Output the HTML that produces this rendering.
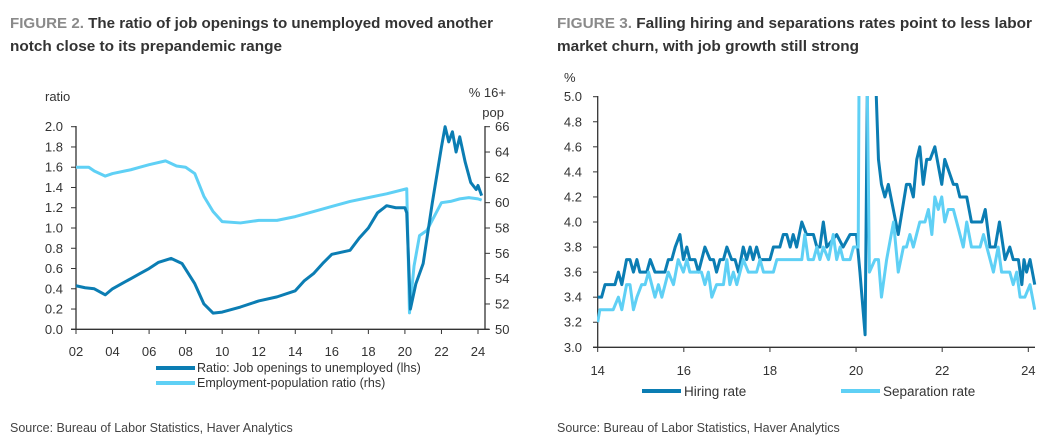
<!DOCTYPE html>
<html><head><meta charset="utf-8"><style>
body{margin:0;background:#fff;}
svg{display:block;font-family:"Liberation Sans",sans-serif;}
.t{font-size:12.5px;fill:#333;}
</style></head><body>
<svg id="s" width="1053" height="444" viewBox="0 0 1053 444" xmlns="http://www.w3.org/2000/svg">
<text x="10" y="28" font-size="15" font-weight="bold" textLength="483" lengthAdjust="spacingAndGlyphs"><tspan fill="#8a8a8a">FIGURE 2.</tspan><tspan fill="#333"> The ratio of job openings to unemployed moved another</tspan></text>
<text x="10" y="51" font-size="15" font-weight="bold" fill="#333" textLength="272" lengthAdjust="spacingAndGlyphs">notch close to its prepandemic range</text>
<text x="557" y="28" font-size="15" font-weight="bold" textLength="475" lengthAdjust="spacingAndGlyphs"><tspan fill="#8a8a8a">FIGURE 3.</tspan><tspan fill="#333"> Falling hiring and separations rates point to less labor</tspan></text>
<text x="557" y="51" font-size="15" font-weight="bold" fill="#333" textLength="302" lengthAdjust="spacingAndGlyphs">market churn, with job growth still strong</text>
<text x="10" y="432" font-size="12.5" fill="#444">Source: Bureau of Labor Statistics, Haver Analytics</text>
<text x="557" y="432" font-size="12.5" fill="#444">Source: Bureau of Labor Statistics, Haver Analytics</text>
<g id="c1"></g>
<g id="c2"></g>
<defs><clipPath id="clip2"><rect x="597" y="96" width="440" height="252"/></clipPath></defs>
</svg>
<script>
// Figure 2 data
const ratioYears=[2002,2002.5,2003,2003.6,2004,2004.5,2005,2005.5,2006,2006.5,2007.2,2007.8,2008.5,2009,2009.5,2010,2011,2012,2013,2014,2014.5,2015,2015.5,2016,2016.5,2017,2017.5,2018,2018.5,2019,2019.5,2020.0,2020.1,2020.3,2020.6,2021,2021.5,2022,2022.2,2022.4,2022.6,2022.8,2023,2023.3,2023.6,2023.9,2024.0,2024.2];
const ratioValues=[0.43,0.41,0.40,0.34,0.40,0.45,0.50,0.55,0.60,0.66,0.70,0.65,0.45,0.25,0.16,0.17,0.22,0.28,0.32,0.38,0.48,0.55,0.65,0.74,0.76,0.78,0.90,1.00,1.15,1.22,1.20,1.20,1.15,0.20,0.45,0.65,1.25,1.80,2.00,1.85,1.95,1.75,1.90,1.65,1.45,1.38,1.42,1.32];
const epopYears=[2002,2002.7,2003,2003.6,2004,2005,2005.5,2006,2006.9,2007.5,2008,2008.5,2009,2009.5,2010,2011,2012,2013,2014,2015,2016,2017,2018,2019,2020.1,2020.25,2020.5,2020.8,2021.2,2022,2022.5,2023,2023.5,2024,2024.2];
const epopValues=[62.8,62.8,62.5,62.1,62.3,62.6,62.8,63.0,63.3,62.9,62.8,62.3,60.5,59.3,58.5,58.4,58.6,58.6,58.9,59.3,59.7,60.1,60.4,60.7,61.1,51.3,55.0,57.4,57.8,60.0,60.1,60.3,60.4,60.3,60.2];
const leftTicks=["0.0","0.2","0.4","0.6","0.8","1.0","1.2","1.4","1.6","1.8","2.0"];
const rightTicks=["50","52","54","56","58","60","62","64","66"];
const xTicks1=["02","04","06","08","10","12","14","16","18","20","22","24"];
// Figure 3 data
const hireYears=[14.00,14.09,14.17,14.40,14.48,14.56,14.67,14.75,14.83,14.91,14.98,15.14,15.22,15.33,15.56,15.64,15.72,15.80,15.91,15.99,16.07,16.14,16.26,16.34,16.49,16.61,16.69,16.76,16.84,16.92,17.00,17.11,17.19,17.27,17.38,17.46,17.54,17.61,17.69,17.77,18.00,18.08,18.23,18.31,18.39,18.47,18.54,18.62,18.74,18.85,19.01,19.09,19.16,19.24,19.32,19.55,19.70,19.86,20.01,20.09,20.21,20.30,20.42,20.52,20.59,20.67,20.75,20.98,21.17,21.25,21.33,21.41,21.48,21.56,21.64,21.72,21.83,21.99,22.06,22.26,22.34,22.41,22.57,22.68,22.92,23.00,23.11,23.23,23.33,23.46,23.57,23.65,23.77,23.85,23.90,23.96,24.04,24.15];
const hireValues=[3.4,3.4,3.5,3.5,3.6,3.5,3.7,3.7,3.6,3.7,3.6,3.6,3.7,3.6,3.6,3.7,3.7,3.8,3.9,3.7,3.8,3.7,3.7,3.6,3.8,3.7,3.7,3.6,3.7,3.7,3.8,3.7,3.7,3.6,3.8,3.7,3.8,3.7,3.8,3.7,3.7,3.8,3.8,3.9,3.9,3.8,3.9,3.8,4.0,3.9,3.9,3.8,3.8,4.0,3.8,3.9,3.8,3.9,3.9,3.6,3.1,6.5,5.5,4.5,4.3,4.2,4.3,3.9,4.3,4.3,4.2,4.5,4.6,4.3,4.5,4.5,4.6,4.3,4.5,4.3,4.3,4.2,4.2,4.0,4.0,4.1,3.8,3.8,4.0,3.7,3.8,3.7,3.7,3.5,3.7,3.6,3.7,3.5];
const sepYears=[14.00,14.05,14.36,14.48,14.56,14.67,14.75,14.83,14.91,15.02,15.10,15.18,15.33,15.41,15.49,15.64,15.76,15.87,15.99,16.07,16.14,16.41,16.49,16.57,16.65,16.76,16.92,17.00,17.07,17.15,17.23,17.38,17.50,17.69,17.77,17.85,18.08,18.16,18.74,18.81,18.89,19.01,19.09,19.16,19.24,19.36,19.47,19.55,19.63,19.70,19.86,19.94,20.05,20.11,20.23,20.31,20.44,20.52,20.59,20.71,20.87,20.98,21.10,21.17,21.25,21.33,21.48,21.60,21.68,21.76,21.83,21.91,21.99,22.06,22.14,22.26,22.49,22.57,22.68,22.88,22.96,23.19,23.30,23.38,23.57,23.65,23.73,23.81,23.92,24.04,24.15];
const sepValues=[3.2,3.3,3.3,3.4,3.3,3.5,3.5,3.3,3.4,3.5,3.5,3.6,3.4,3.5,3.4,3.6,3.5,3.7,3.6,3.7,3.6,3.6,3.5,3.6,3.4,3.5,3.5,3.7,3.5,3.6,3.5,3.7,3.6,3.6,3.7,3.6,3.6,3.7,3.7,3.9,3.7,3.7,3.8,3.7,3.8,3.7,3.9,3.7,3.8,3.7,3.7,3.8,3.8,8.0,6.0,3.6,3.7,3.7,3.4,3.7,4.0,3.6,3.8,3.8,3.9,3.8,4.0,4.0,4.1,3.9,4.2,4.1,4.2,4.0,4.1,4.1,3.8,4.0,3.8,3.8,3.9,3.6,3.8,3.6,3.6,3.5,3.6,3.4,3.4,3.5,3.3];
const yTicks2=["3.0","3.2","3.4","3.6","3.8","4.0","4.2","4.4","4.6","4.8","5.0"];
const xTicks2=["14","16","18","20","22","24"];

const NS="http://www.w3.org/2000/svg";
const DARK="#0b7db3",LIGHT="#5fd0f5",AX="#333";
function mk(parent,tag,attrs){const e=document.createElementNS(NS,tag);for(const k in attrs)e.setAttribute(k,attrs[k]);parent.appendChild(e);return e;}
function txt(parent,x,y,s,anchor,size){const e=mk(parent,'text',{x:x,y:y,'text-anchor':anchor||'start','font-size':size||13,fill:'#333'});e.textContent=s;return e;}

// ---- Figure 2 ----
const c1=document.getElementById('c1');
const x1=y=>76+(y-2002)/22*(478-76);
const yl=v=>329.3-v/2*(329.3-126.7);
const yr=v=>329.3-(v-50)/16*(329.3-126.7);
let e;
e=mk(c1,'line',{x1:76,y1:126,x2:76,y2:330,stroke:AX,'stroke-width':1.3});

e=mk(c1,'line',{x1:485,y1:126,x2:485,y2:330,stroke:AX,'stroke-width':1.3});

e=mk(c1,'line',{x1:71,y1:329.3,x2:489,y2:329.3,stroke:AX,'stroke-width':1.3});

leftTicks.forEach(s=>{const y=yl(parseFloat(s));mk(c1,'line',{x1:71,y1:y,x2:76,y2:y,stroke:AX});
 e=txt(c1,63,y+4.5,s,'end');});
rightTicks.forEach(s=>{const y=yr(parseFloat(s));mk(c1,'line',{x1:485,y1:y,x2:490,y2:y,stroke:AX});
 e=txt(c1,495,y+4.5,s,'start');});
xTicks1.forEach(s=>{const x=x1(2000+parseInt(s,10));mk(c1,'line',{x1:x,y1:329.3,x2:x,y2:334,stroke:AX});
 e=txt(c1,x,356,s,'middle');});
e=txt(c1,45,101,'ratio','start');
e=txt(c1,506,97,'% 16+','end');
e=txt(c1,504,117,'pop','end');
e=mk(c1,'polyline',{points:epopYears.map((y,i)=>x1(y)+','+yr(epopValues[i])).join(' '),fill:'none',stroke:LIGHT,'stroke-width':3,'stroke-linejoin':'round'});

e=mk(c1,'polyline',{points:ratioYears.map((y,i)=>x1(y)+','+yl(ratioValues[i])).join(' '),fill:'none',stroke:DARK,'stroke-width':3,'stroke-linejoin':'round'});

e=mk(c1,'line',{x1:156,y1:368,x2:195,y2:368,stroke:DARK,'stroke-width':4});

e=txt(c1,197,372,'Ratio: Job openings to unemployed (lhs)','start',12.5);
e=mk(c1,'line',{x1:156,y1:383,x2:195,y2:383,stroke:LIGHT,'stroke-width':4});

e=txt(c1,197,387,'Employment-population ratio (rhs)','start',12.5);

// ---- Figure 3 ----
const c2=document.getElementById('c2');
const x2=y=>597.7+(y-14)/10*(1028.3-597.7);
const y2=v=>347.3-(v-3)/2*(347.3-96.7);
e=mk(c2,'line',{x1:597.7,y1:96,x2:597.7,y2:348,stroke:AX,'stroke-width':1.3});

e=mk(c2,'line',{x1:593,y1:347.3,x2:1035,y2:347.3,stroke:AX,'stroke-width':1.3});

yTicks2.forEach(s=>{const y=y2(parseFloat(s));mk(c2,'line',{x1:593,y1:y,x2:597.7,y2:y,stroke:AX});
 e=txt(c2,582,y+4.5,s,'end');});
xTicks2.forEach(s=>{const x=x2(parseInt(s,10));mk(c2,'line',{x1:x,y1:347.3,x2:x,y2:352,stroke:AX});
 e=txt(c2,x,375,s,'middle');});
e=txt(c2,564,82,'%','start');
const g2=mk(c2,'g',{'clip-path':'url(#clip2)'});
e=mk(g2,'polyline',{points:hireYears.map((y,i)=>x2(y)+','+y2(hireValues[i])).join(' '),fill:'none',stroke:DARK,'stroke-width':3,'stroke-linejoin':'round'});

e=mk(g2,'polyline',{points:sepYears.map((y,i)=>x2(y)+','+y2(sepValues[i])).join(' '),fill:'none',stroke:LIGHT,'stroke-width':3,'stroke-linejoin':'round'});

e=mk(c2,'line',{x1:642,y1:391,x2:681,y2:391,stroke:DARK,'stroke-width':4});

e=txt(c2,684,396,'Hiring rate','start',13.5);
e=mk(c2,'line',{x1:841,y1:391,x2:880,y2:391,stroke:LIGHT,'stroke-width':4});

e=txt(c2,883,396,'Separation rate','start',13.5);
</script>
</body></html>
